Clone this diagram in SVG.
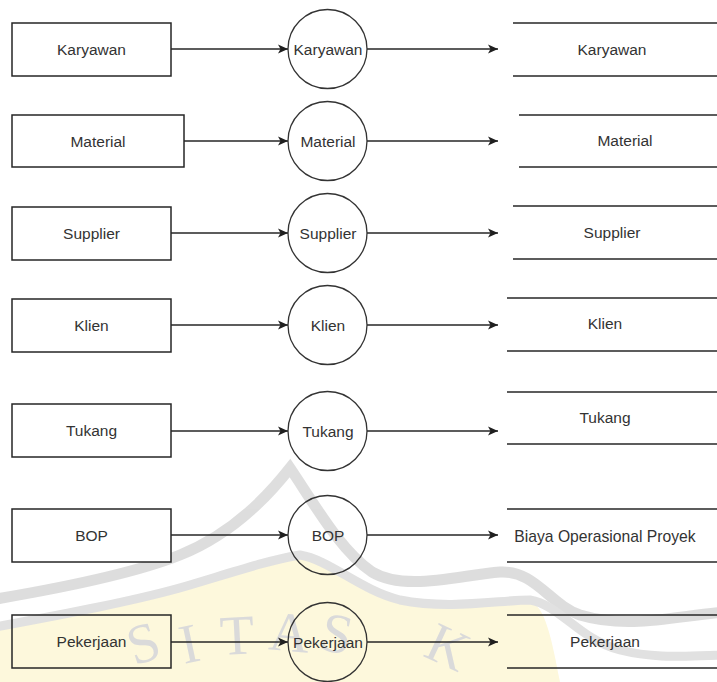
<svg xmlns="http://www.w3.org/2000/svg" width="717" height="682" viewBox="0 0 717 682">
<style>
.ent{fill:#ffffff;stroke:#262626;stroke-width:1.5}
.proc{fill:none;stroke:#333333;stroke-width:1.3}
.store{stroke:#262626;stroke-width:1.5}
.flow{stroke:#262626;stroke-width:1.5;fill:none}
.lbl{font-family:"Liberation Sans",Arial,sans-serif;font-size:15.5px;fill:#333333;text-anchor:middle}
.wm{font-family:"Liberation Serif","Times New Roman",serif;font-size:56px;fill:#d4d4d4;text-anchor:middle}
</style>
<defs>
<marker id="arr" markerWidth="12" markerHeight="10" refX="10" refY="5" orient="auto" markerUnits="userSpaceOnUse">
<path d="M0,0.5 L10,5 L0,9.5 L2.5,5 Z" fill="#1f1f1f"/>
</marker>
</defs>
<rect width="717" height="682" fill="#ffffff"/>
<g id="watermark" opacity="0.85">
<path d="M-10,632 C60,618 140,602 190,587 C240,572 270,560 300,557 C330,562 360,592 400,602 C450,612 500,602 530,602 C545,605 552,640 560,682 L-10,682 Z" fill="#fdf7d6"/>
<path d="M-10,600 C50,590 130,575 180,555 C230,535 265,500 290,468 C315,505 340,550 372,572 C405,592 460,575 500,572 C535,570 550,605 580,615 C630,630 680,615 727,612" fill="none" stroke="#d8d8d8" stroke-width="11"/>
<path d="M-10,628 C60,615 140,600 190,585 C240,570 270,560 300,555 C330,560 360,590 400,600 C450,610 500,600 530,600 C560,605 580,640 620,650 C660,660 690,655 727,655" fill="none" stroke="#dcdcdc" stroke-width="9"/>
<text class="wm" transform="translate(149,661) rotate(-18)">S</text>
<text class="wm" transform="translate(193,662) rotate(-12)">I</text>
<text class="wm" transform="translate(238,654) rotate(-3)">T</text>
<text class="wm" transform="translate(288,651) rotate(5)">A</text>
<text class="wm" transform="translate(333,652) rotate(12)">S</text>
<text class="wm" transform="translate(440,664) rotate(25)">K</text>
</g>
<g id="connectors">
<line class="flow" x1="171" y1="49" x2="288" y2="49" marker-end="url(#arr)"/>
<line class="flow" x1="367" y1="49" x2="498" y2="49" marker-end="url(#arr)"/>
<line class="flow" x1="184" y1="141" x2="288" y2="141" marker-end="url(#arr)"/>
<line class="flow" x1="367" y1="141" x2="498" y2="141" marker-end="url(#arr)"/>
<line class="flow" x1="171" y1="233" x2="288" y2="233" marker-end="url(#arr)"/>
<line class="flow" x1="367" y1="233" x2="498" y2="233" marker-end="url(#arr)"/>
<line class="flow" x1="171" y1="325" x2="288" y2="325" marker-end="url(#arr)"/>
<line class="flow" x1="367" y1="325" x2="498" y2="325" marker-end="url(#arr)"/>
<line class="flow" x1="171" y1="431" x2="288" y2="431" marker-end="url(#arr)"/>
<line class="flow" x1="367" y1="431" x2="498" y2="431" marker-end="url(#arr)"/>
<line class="flow" x1="171" y1="535" x2="288" y2="535" marker-end="url(#arr)"/>
<line class="flow" x1="367" y1="535" x2="498" y2="535" marker-end="url(#arr)"/>
<line class="flow" x1="171" y1="642" x2="288" y2="642" marker-end="url(#arr)"/>
<line class="flow" x1="367" y1="642" x2="498" y2="642" marker-end="url(#arr)"/>
</g>
<g id="ent-karyawan"><rect class="ent" x="12" y="23" width="159" height="53"/><text class="lbl" x="91.5" y="55">Karyawan</text></g>
<g id="proc-karyawan"><circle class="proc" cx="327.5" cy="49" r="39.5"/><text class="lbl" x="328" y="55">Karyawan</text></g>
<g id="store-karyawan"><line class="store" x1="513" y1="23" x2="717" y2="23"/><line class="store" x1="513" y1="76" x2="717" y2="76"/><text class="lbl" x="612" y="55">Karyawan</text></g>

<g id="ent-material"><rect class="ent" x="12" y="115" width="172" height="52"/><text class="lbl" x="98" y="147">Material</text></g>
<g id="proc-material"><circle class="proc" cx="327.5" cy="141" r="39.5"/><text class="lbl" x="328" y="147">Material</text></g>
<g id="store-material"><line class="store" x1="519" y1="115" x2="717" y2="115"/><line class="store" x1="519" y1="167" x2="717" y2="167"/><text class="lbl" x="625" y="146">Material</text></g>

<g id="ent-supplier"><rect class="ent" x="12" y="207" width="159" height="53"/><text class="lbl" x="91.5" y="239">Supplier</text></g>
<g id="proc-supplier"><circle class="proc" cx="327.5" cy="233" r="39.5"/><text class="lbl" x="328" y="239">Supplier</text></g>
<g id="store-supplier"><line class="store" x1="513" y1="206" x2="717" y2="206"/><line class="store" x1="513" y1="259" x2="717" y2="259"/><text class="lbl" x="612" y="238">Supplier</text></g>

<g id="ent-klien"><rect class="ent" x="12" y="299" width="159" height="53"/><text class="lbl" x="91.5" y="331">Klien</text></g>
<g id="proc-klien"><circle class="proc" cx="327.5" cy="325" r="39.5"/><text class="lbl" x="328" y="331">Klien</text></g>
<g id="store-klien"><line class="store" x1="507" y1="298" x2="717" y2="298"/><line class="store" x1="507" y1="351" x2="717" y2="351"/><text class="lbl" x="605" y="329">Klien</text></g>

<g id="ent-tukang"><rect class="ent" x="12" y="404" width="159" height="53"/><text class="lbl" x="91.5" y="436">Tukang</text></g>
<g id="proc-tukang"><circle class="proc" cx="327.5" cy="431" r="39.5"/><text class="lbl" x="328" y="437">Tukang</text></g>
<g id="store-tukang"><line class="store" x1="507" y1="392" x2="717" y2="392"/><line class="store" x1="507" y1="444" x2="717" y2="444"/><text class="lbl" x="605" y="423">Tukang</text></g>

<g id="ent-bop"><rect class="ent" x="12" y="509" width="159" height="53"/><text class="lbl" x="91.5" y="541">BOP</text></g>
<g id="proc-bop"><circle class="proc" cx="327.5" cy="535" r="39.5"/><text class="lbl" x="328" y="541">BOP</text></g>
<g id="store-bop"><line class="store" x1="507" y1="509" x2="717" y2="509"/><line class="store" x1="507" y1="562" x2="717" y2="562"/><text class="lbl" x="605" y="542" style="font-size:15.7px">Biaya Operasional Proyek</text></g>

<g id="ent-pekerjaan"><rect class="ent" x="12" y="615" width="159" height="53" style="fill:none"/><text class="lbl" x="91.5" y="647">Pekerjaan</text></g>
<g id="proc-pekerjaan"><circle class="proc" cx="327.5" cy="642" r="39.5"/><text class="lbl" x="328" y="648">Pekerjaan</text></g>
<g id="store-pekerjaan"><line class="store" x1="507" y1="615" x2="717" y2="615"/><line class="store" x1="507" y1="668" x2="717" y2="668"/><text class="lbl" x="605" y="647">Pekerjaan</text></g>
</svg>
